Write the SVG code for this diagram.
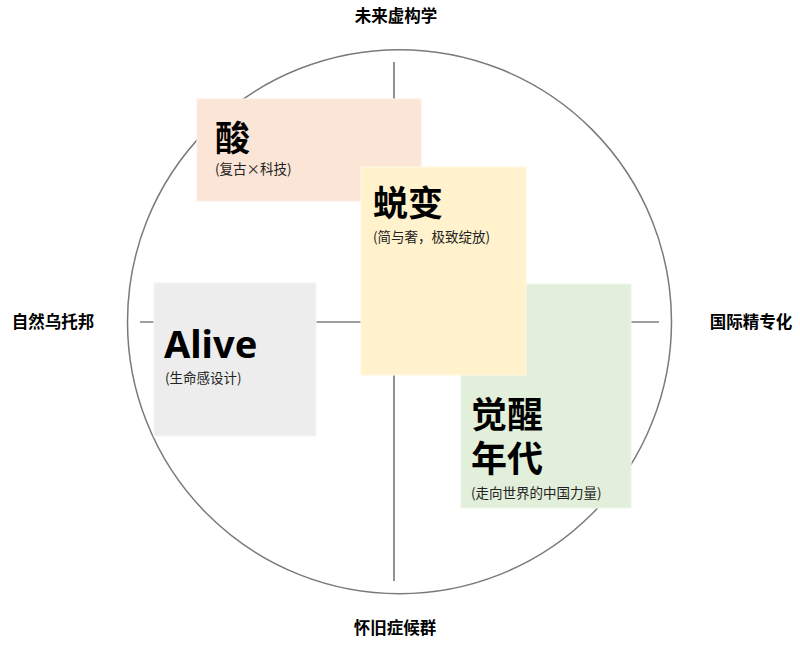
<svg xmlns="http://www.w3.org/2000/svg" width="800" height="649" viewBox="0 0 800 649">
<style>
.axis{stroke:#7f7f7f;stroke-width:1.7;fill:none}
.ring{stroke:#7a7a7a;stroke-width:1.5;fill:none}
.box{stroke-width:1.2}
.title{font-family:"Noto Sans CJK SC","Noto Sans",sans-serif;font-weight:700;fill:#000}
.latin{font-family:"Noto Sans","Noto Sans CJK SC",sans-serif;font-weight:700;fill:#000}
.sub{font-family:"Noto Sans CJK SC",sans-serif;font-size:13.5px;fill:#222}
.lbl{font-family:"Noto Sans CJK SC",sans-serif;font-weight:700;font-size:16.5px;fill:#000;text-anchor:middle}
</style>
<rect width="800" height="649" fill="#fff"/>
<g id="frame">
<circle class="ring" cx="399.5" cy="321.7" r="272"/>
</g>
<g id="connectors">
<line class="axis" x1="394" y1="62" x2="394" y2="581"/>
<line class="axis" x1="140" y1="322" x2="659" y2="322"/>
</g>
<g id="labels">
<text class="lbl" x="396" y="22">未来虚构学</text>
<text class="lbl" x="53" y="328">自然乌托邦</text>
<text class="lbl" x="751" y="328">国际精专化</text>
<text class="lbl" x="395" y="634">怀旧症候群</text>
</g>
<g id="node-suan">
<rect class="box" x="197" y="99" width="224" height="102" fill="#FBE5D6" stroke="#FDEFE6"/>
<text class="title" x="215" y="151" font-size="35">酸</text>
<text class="sub" x="215" y="174">(复古×科技)</text>
</g>
<g id="node-alive">
<rect class="box" x="154" y="283" width="162" height="153" fill="#EDEDED" stroke="#F5F5F5"/>
<text class="latin" x="164" y="358" font-size="38">Alive</text>
<text class="sub" x="165" y="383">(生命感设计)</text>
</g>
<g id="node-juexing">
<rect class="box" x="461" y="284" width="170" height="224" fill="#E2EFDA" stroke="#EEF6E9"/>
<text class="title" font-size="36"><tspan x="471" y="428">觉醒</tspan><tspan x="471" y="472">年代</tspan></text>
<text class="sub" x="471" y="498">(走向世界的中国力量)</text>
</g>
<g id="node-tuibian">
<rect class="box" x="361" y="167" width="165" height="208" fill="#FFF2CC" stroke="#FFF7E0"/>
<text class="title" x="373" y="216" font-size="35">蜕变</text>
<text class="sub" x="373" y="242">(简与奢，极致绽放)</text>
</g>
</svg>
